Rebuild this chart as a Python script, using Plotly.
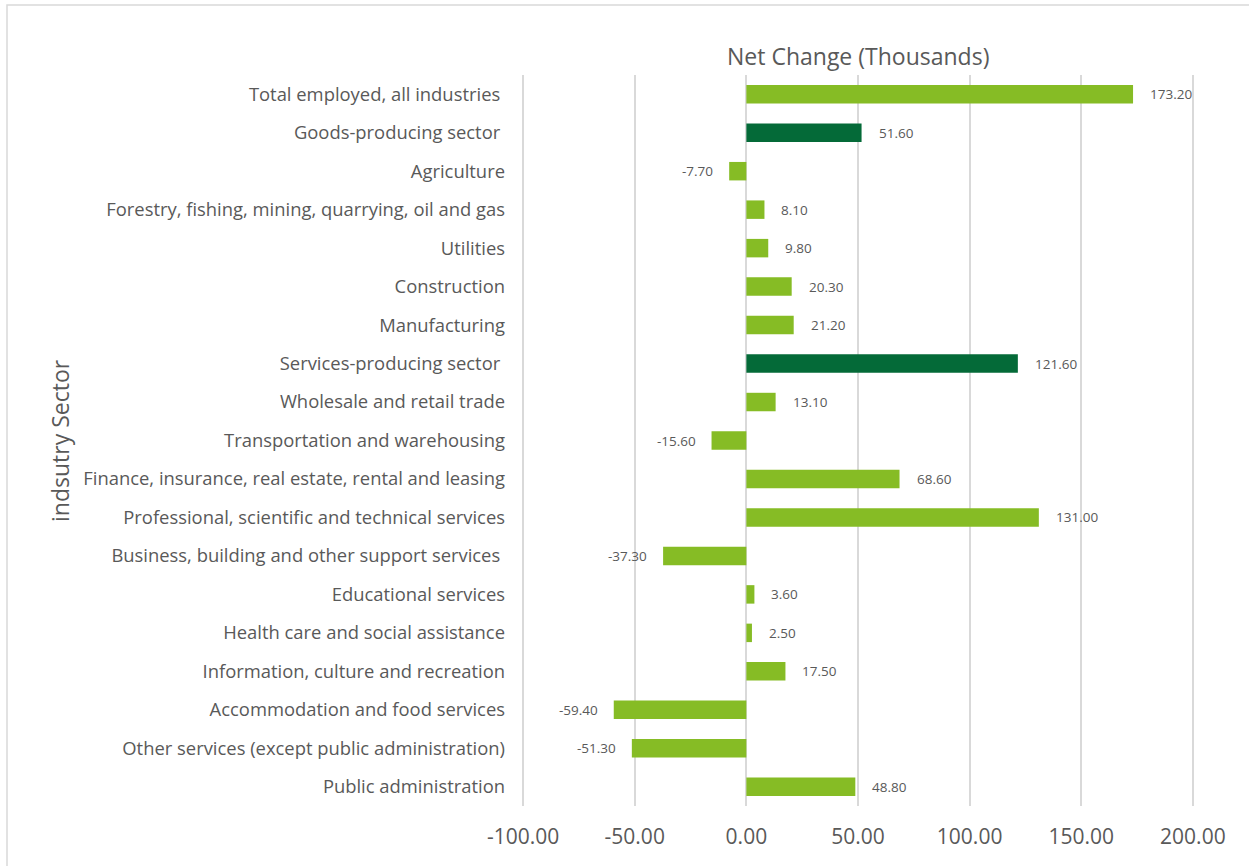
import plotly.graph_objects as go

categories = [
    "Total employed, all industries\u00a0",
    "Goods-producing sector\u00a0",
    "Agriculture",
    "Forestry, fishing, mining, quarrying, oil and gas",
    "Utilities",
    "Construction",
    "Manufacturing",
    "Services-producing sector\u00a0",
    "Wholesale and retail trade",
    "Transportation and warehousing",
    "Finance, insurance, real estate, rental and leasing",
    "Professional, scientific and technical services",
    "Business, building and other support services\u00a0",
    "Educational services",
    "Health care and social assistance",
    "Information, culture and recreation",
    "Accommodation and food services",
    "Other services (except public administration)",
    "Public administration",
]
values = [173.2, 51.6, -7.7, 8.1, 9.8, 20.3, 21.2, 121.6, 13.1, -15.6, 68.6,
          131.0, -37.3, 3.6, 2.5, 17.5, -59.4, -51.3, 48.8]
sector_rows = ["Goods-producing sector\u00a0", "Services-producing sector\u00a0"]
x_ticks = [-100, -50, 0, 50, 100, 150, 200]

LIGHT = "#86BC25"
DARK = "#046A38"
GREY = "#595959"
colors = [DARK if c in sector_rows else LIGHT for c in categories]

W, H = 1249, 866
L, R, T, B = 522, 55, 75, 60
pw, ph = W - L - R, H - T - B

fig = go.Figure(go.Bar(
    y=categories, x=values, orientation="h",
    marker=dict(color=colors, line=dict(width=0)),
    cliponaxis=False,
))

annotations = []
for c, v in zip(categories, values):
    annotations.append(dict(
        x=v, y=c, xref="x", yref="y", text=f"{v:.2f}", showarrow=False,
        xanchor="left" if v >= 0 else "right", yanchor="middle",
        xshift=15 if v >= 0 else -14,
        font=dict(family="Open Sans", size=13.5, color=GREY),
    ))
annotations.append(dict(
    text="Net Change (Thousands)", xref="paper", yref="paper",
    x=(858 - L) / pw, y=1 + (T - 56) / ph, xanchor="center", yanchor="middle",
    showarrow=False, font=dict(family="Open Sans", size=23, color=GREY),
))
annotations.append(dict(
    text="indsutry Sector", xref="paper", yref="paper", textangle=-90,
    x=(60 - L) / pw, y=1 - (441 - T) / ph, xanchor="center", yanchor="middle",
    showarrow=False, font=dict(family="Open Sans", size=23, color=GREY),
))

fig.update_layout(
    width=W, height=H,
    margin=dict(l=L, r=R, t=T, b=B, autoexpand=False),
    paper_bgcolor="white", plot_bgcolor="white",
    bargap=0.52,
    showlegend=False,
    font=dict(family="Open Sans", color=GREY),
    xaxis=dict(
        range=[-100.5, 200.5], tickvals=x_ticks,
        ticktext=[f"{v:.2f}" for v in x_ticks],
        showgrid=True, gridcolor="#D9D9D9", gridwidth=1.5,
        zeroline=True, zerolinecolor="#D9D9D9", zerolinewidth=1.5,
        showline=False, ticks="", ticklen=0, ticklabelstandoff=16,
        tickfont=dict(family="Open Sans", size=21, color=GREY),
        fixedrange=True,
    ),
    yaxis=dict(
        autorange="reversed",
        showgrid=False, showline=False, ticks="", ticklabelstandoff=16,
        tickfont=dict(family="Open Sans", size=18.4, color=GREY),
    ),
    annotations=annotations,
    shapes=[dict(
        type="rect", xref="paper", yref="paper",
        x0=(7 - L) / pw, x1=(W + 20 - L) / pw,
        y0=-(B + 20) / ph, y1=1 + (T - 5) / ph,
        line=dict(color="#D9D9D9", width=1.5), fillcolor="rgba(0,0,0,0)",
        layer="below",
    )],
)

fig.write_html("out.html")
